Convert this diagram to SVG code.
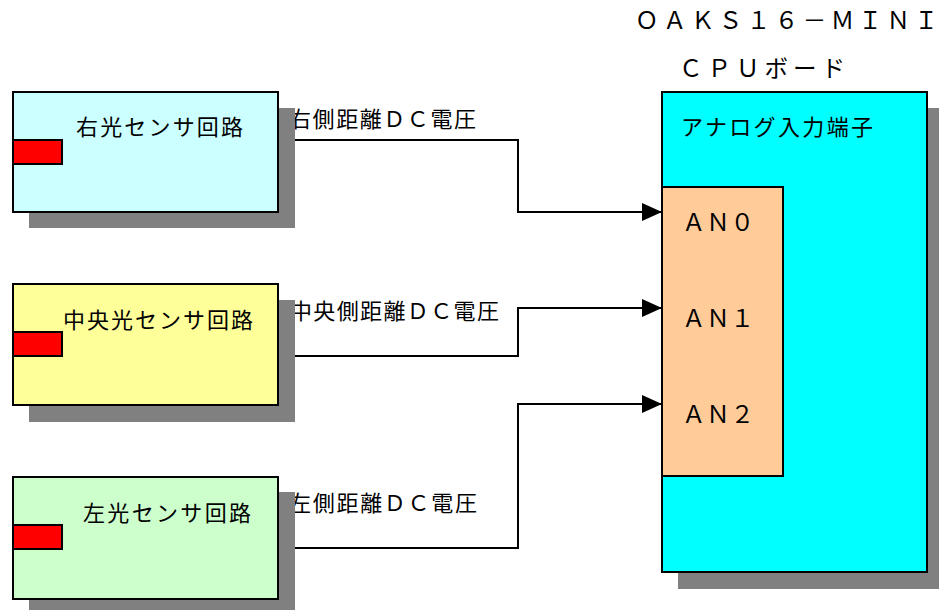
<svg xmlns="http://www.w3.org/2000/svg" width="939" height="610" viewBox="0 0 939 610">
<defs>
<style>
.t{font-family:"Noto Sans CJK JP","Liberation Sans",sans-serif;font-size:22px;fill:#000}
.l{font-size:23.5px}
.sh{fill:#808080}
.box{stroke:#000;stroke-width:2}
.red{fill:#FF0000;stroke:#000;stroke-width:2}
.wire{fill:none;stroke:#000;stroke-width:2}
</style>
<marker id="arr" viewBox="0 0 20 18" refX="20" refY="9" markerWidth="20" markerHeight="18" markerUnits="userSpaceOnUse" orient="auto">
<path d="M0,0 L20,9 L0,18 z" fill="#000"/>
</marker>
</defs>
<rect width="939" height="610" fill="#fff"/>

<g id="connectors">
<path class="wire" d="M278,140 H518 V212 H662" marker-end="url(#arr)"/>
<path class="wire" d="M278,356 H518 V308 H662" marker-end="url(#arr)"/>
<path class="wire" d="M278,548 H518 V404 H662" marker-end="url(#arr)"/>
<text class="t" x="289" y="127" textLength="187" lengthAdjust="spacing">右側距離ＤＣ電圧</text>
<text class="t" x="290" y="319" textLength="209" lengthAdjust="spacing">中央側距離ＤＣ電圧</text>
<text class="t" x="289" y="511" textLength="188" lengthAdjust="spacing">左側距離ＤＣ電圧</text>
</g>

<g id="right-sensor">
<rect class="sh" x="29" y="108" width="266" height="120"/>
<rect class="box" x="13" y="92" width="265" height="120" fill="#CCFFFF"/>
<rect class="red" x="13" y="140" width="49" height="24"/>
<text class="t" x="76" y="135" textLength="167" lengthAdjust="spacing">右光センサ回路</text>
</g>

<g id="center-sensor">
<rect class="sh" x="29" y="300" width="266" height="122"/>
<rect class="box" x="13" y="284" width="265" height="121" fill="#FFFF99"/>
<rect class="red" x="13" y="332" width="49" height="24"/>
<text class="t" x="63" y="328" textLength="190" lengthAdjust="spacing">中央光センサ回路</text>
</g>

<g id="left-sensor">
<rect class="sh" x="29" y="492" width="266" height="118"/>
<rect class="box" x="13" y="477" width="265" height="122" fill="#CCFFCC"/>
<rect class="red" x="13" y="525" width="49" height="24"/>
<text class="t" x="83" y="521" textLength="168" lengthAdjust="spacing">左光センサ回路</text>
</g>

<g id="cpu-board">
<text class="t l" x="635" y="29" textLength="303" lengthAdjust="spacing">ＯＡＫＳ１６－ＭＩＮＩ</text>
<text class="t l" x="679" y="77" textLength="166" lengthAdjust="spacing">ＣＰＵボード</text>
<rect class="sh" x="678" y="108" width="265" height="481"/>
<rect class="box" x="662" y="92" width="265" height="480" fill="#00FFFF"/>
<text class="t" x="681" y="135" textLength="192" lengthAdjust="spacing">アナログ入力端子</text>
</g>

<g id="analog-pins">
<rect class="box" x="662" y="187" width="121" height="289" fill="#FFCC99"/>
<text class="t l" x="682" y="231" textLength="72" lengthAdjust="spacing">ＡＮ０</text>
<text class="t l" x="682" y="327" textLength="72" lengthAdjust="spacing">ＡＮ１</text>
<text class="t l" x="682" y="423" textLength="72" lengthAdjust="spacing">ＡＮ２</text>
</g>
</svg>
